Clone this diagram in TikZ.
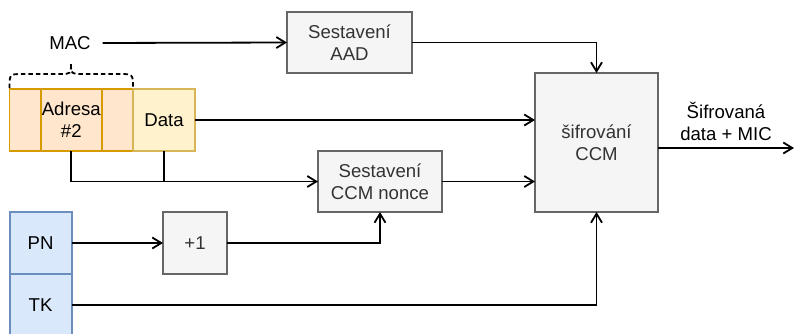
\documentclass[tikz,border=0pt]{standalone}
\usepackage{fontspec}
\setmainfont{Liberation Sans}
\usetikzlibrary{arrows.meta}
\definecolor{grayfill}{HTML}{F5F5F5}
\definecolor{grayline}{HTML}{666666}
\definecolor{graytext}{HTML}{333333}
\definecolor{orangefill}{HTML}{FFE6CC}
\definecolor{orangeline}{HTML}{D79B00}
\definecolor{yellowfill}{HTML}{FFF2CC}
\definecolor{yellowline}{HTML}{D6B656}
\definecolor{bluefill}{HTML}{DAE8FC}
\definecolor{blueline}{HTML}{6C8EBF}
\begin{document}
\begin{tikzpicture}[x=1pt, y=-1pt,
  font=\fontsize{18.6}{22}\selectfont,
  every node/.style={outer sep=0pt, inner sep=0pt, align=center},
  block/.style={draw=grayline, fill=grayfill, text=graytext, line width=1.8pt},
  hdrcell/.style={draw=orangeline, fill=orangefill, line width=1.8pt, minimum height=62pt},
  datacell/.style={draw=yellowline, fill=yellowfill, line width=1.8pt, minimum height=62pt},
  keycell/.style={draw=blueline, fill=bluefill, line width=1.8pt, minimum width=62pt, minimum height=62pt},
  link/.style={line width=1.8pt, -{Straight Barb[length=9pt, width=11pt, line width=1.8pt]}},
  wire/.style={line width=1.8pt},
  bracket/.style={line width=1.8pt, dash pattern=on 4.5pt off 3pt}]
\useasboundingbox (0,0) rectangle (795,333);

% processing blocks
\node[block, minimum width=125pt, minimum height=61pt] (aad) at (349.5,42.5) {Sestavení\\AAD};
\node[block, minimum width=123pt, minimum height=139pt] (ccm) at (596.5,142.5) {šifrování\\CCM};
\node[block, minimum width=124pt, minimum height=61pt] (nonce) at (380,181.5) {Sestavení\\CCM nonce};
\node[block, minimum width=64pt, minimum height=62pt] (plus) at (195,243) {+1};

% frame header and payload
\node[hdrcell, minimum width=31pt] (hA) at (25,120) {};
\node[hdrcell, minimum width=61.3pt] (adr) at (71.3,120) {Adresa\\\#2};
\node[hdrcell, minimum width=31pt] (hC) at (117.5,120) {};
\node[datacell, minimum width=62pt] (data) at (164,120) {Data};

% key material
\node[keycell] (pn) at (40.6,243) {PN};
\node[keycell] (tk) at (40.6,305) {TK};

% labels
\node[inner sep=6pt] (mac) at (70,43) {MAC};
\node (outlbl) at (726,121) {Šifrovaná\\data + MIC};
\coordinate (out) at (794,148);

% dashed brace over the address fields
\draw[bracket] (9.5,88) .. controls (9.5,74) .. (23,74) -- (60,74)
  .. controls (71,74) .. (71,63)
  .. controls (71,74) .. (82,74) -- (119,74)
  .. controls (133,74) .. (133,88);

% connectors
\draw[link, shorten <=6pt] (mac.east) -- (aad.west);
\draw[link] (aad.east) -| (ccm.north);
\draw[link] (data.east) -- (ccm.west |- data.east);
\draw[wire] (data.south) -- (data.south |- nonce.west);
\draw[link] (adr.south) |- (nonce.west);
\draw[link] (nonce.east) -- (ccm.west |- nonce.east);
\draw[link] (pn.east) -- (plus.west);
\draw[link] (plus.east) -| (nonce.south);
\draw[link] (tk.east) -| (ccm.south);
\draw[link] (ccm.east |- out) -- (out);
\end{tikzpicture}
\end{document}
